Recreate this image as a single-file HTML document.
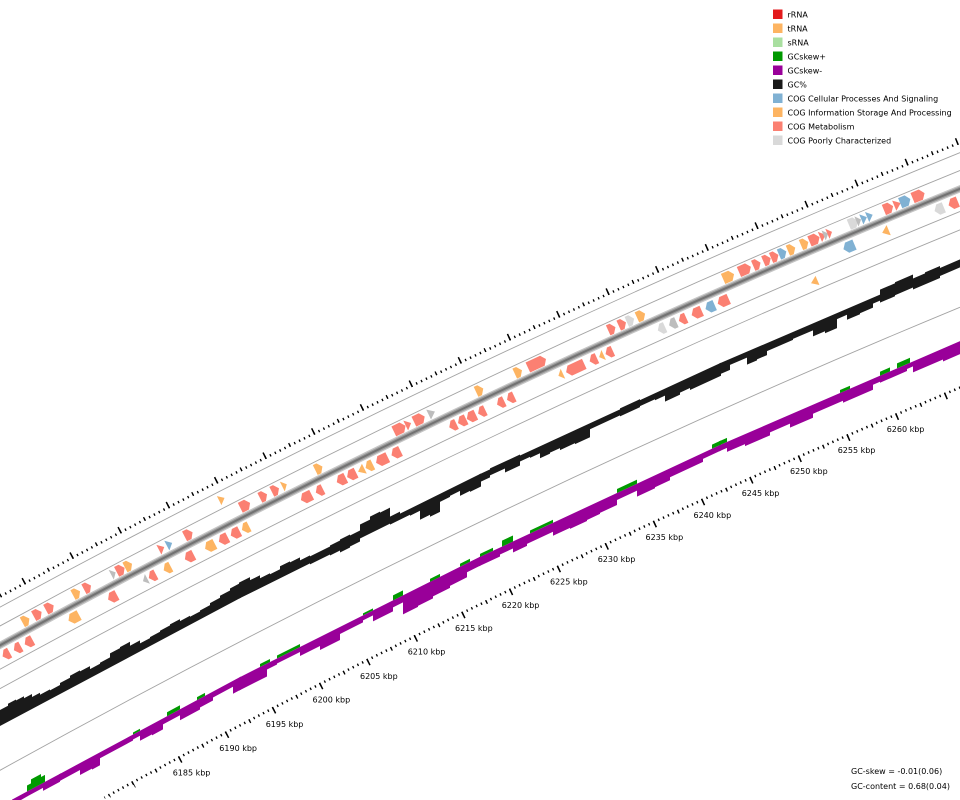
<!DOCTYPE html>
<html>
<head>
<meta charset="utf-8">
<style>
html,body{margin:0;padding:0;background:#fff;overflow:hidden;width:960px;height:800px;}
#wrap{position:relative;width:960px;height:800px;overflow:hidden;}
svg{display:block;}
.s{fill:#fb8072}.o{fill:#fdb462}.b{fill:#80b1d3}.g{fill:#d9d9d9}.m{fill:#bdbdbd}
text{font-family:"DejaVu Sans","Liberation Sans",sans-serif;font-size:8px;fill:#000;}
</style>
</head>
<body>
<div id="wrap">
<svg width="960" height="800" viewBox="0 0 960 800" xmlns="http://www.w3.org/2000/svg">
<defs>
<clipPath id="cv"><rect x="0" y="0" width="960" height="800"/></clipPath>
<polygon id="F5" points="-5.5,-2.5 5.5,-2.5 0,2.5"/>
<polygon id="F6" points="-5.5,-3 5.5,-3 0,3"/>
<polygon id="F7" points="-5.5,-3.5 5.5,-3.5 0,3.5"/>
<polygon id="F8" points="-5.5,-4 5.5,-4 5.5,0 0,4 -5.5,0"/>
<polygon id="F9" points="-5.5,-4.5 5.5,-4.5 5.5,0.5 0,4.5 -5.5,0.5"/>
<polygon id="F10" points="-5.5,-5 5.5,-5 5.5,1 0,5 -5.5,1"/>
<polygon id="F11" points="-5.5,-5.5 5.5,-5.5 5.5,1.5 0,5.5 -5.5,1.5"/>
<polygon id="F12" points="-5.5,-6 5.5,-6 5.5,2 0,6 -5.5,2"/>
<polygon id="F13" points="-5.5,-6.5 5.5,-6.5 5.5,2.5 0,6.5 -5.5,2.5"/>
<polygon id="F20" points="-5.5,-10 5.5,-10 5.5,6 0,10 -5.5,6"/>
<polygon id="R5" points="-5.5,2.5 5.5,2.5 0,-2.5"/>
<polygon id="R7" points="-5.5,3.5 5.5,3.5 0,-3.5"/>
<polygon id="R8" points="-5.5,4 5.5,4 5.5,0 0,-4 -5.5,0"/>
<polygon id="R9" points="-5.5,4.5 5.5,4.5 5.5,-0.5 0,-4.5 -5.5,-0.5"/>
<polygon id="R10" points="-5.5,5 5.5,5 5.5,-1 0,-5 -5.5,-1"/>
<polygon id="R11" points="-5.5,5.5 5.5,5.5 5.5,-1.5 0,-5.5 -5.5,-1.5"/>
<polygon id="R12" points="-5.5,6 5.5,6 5.5,-2 0,-6 -5.5,-2"/>
<polygon id="R13" points="-5.5,6.5 5.5,6.5 5.5,-2.5 0,-6.5 -5.5,-2.5"/>
<polygon id="R20" points="-5.5,10 5.5,10 5.5,-6 0,-10 -5.5,-6"/>
</defs>
<rect width="960" height="800" fill="#fff"/>

<g clip-path="url(#cv)">
  <!-- rings (screen coordinates) -->
  <g fill="none" stroke="#a3a3a3" stroke-width="0.9">
    <path d="M-88.043,655.658 A9491,9491 0 0 1 971.932,147.803"/>
    <path d="M-80.006,670.068 A9474.5,9474.5 0 0 1 978.126,163.096"/>
    <path d="M-61.497,703.255 A9436.5,9436.5 0 0 1 992.392,198.317"/>
    <path d="M-53.216,718.102 A9419.5,9419.5 0 0 1 998.774,214.073"/>
    <path d="M-18.388,780.547 A9348,9348 0 0 1 1025.616,280.344"/>
  </g>
  <path d="M-71.726,684.915 A9457.5,9457.5 0 0 1 984.508,178.853" fill="none" stroke="#c6c6c6" stroke-width="7"/>
  <path d="M-71.726,684.915 A9457.5,9457.5 0 0 1 984.508,178.853" fill="none" stroke="#9c9c9c" stroke-width="4.5"/>
  <path d="M-71.726,684.915 A9457.5,9457.5 0 0 1 984.508,178.853" fill="none" stroke="#727272" stroke-width="2"/>

  <!-- rulers -->
  <g fill="none" stroke="#000">
    <path d="M-117.869,661.754 A9500.25,9500.25 0 0 1 968.459,139.230" stroke-width="2.5" stroke-dasharray="1.3 4.130296" stroke-dashoffset="0.65"/>
    <path d="M-118.236,661.100 A9501,9501 0 0 1 968.177,138.534" stroke-width="4" stroke-dasharray="1.3 25.85363" stroke-dashoffset="0.65"/>
    <path d="M-118.971,659.792 A9502.5,9502.5 0 0 1 967.614,137.144" stroke-width="7" stroke-dasharray="1.5 52.81584" stroke-dashoffset="0.75"/>
    <path d="M104.403,797.684 A9273.75,9273.75 0 0 1 1053.490,349.163" stroke-width="2.5" stroke-dasharray="1.3 4.000829" stroke-dashoffset="0.65"/>
    <path d="M109.419,795.812 A9273,9273 0 0 1 1053.772,349.858" stroke-width="4" stroke-dasharray="1.3 25.202011" stroke-dashoffset="0.65"/>
    <path d="M133.439,784.516 A9271.5,9271.5 0 0 1 1054.335,351.253" stroke-width="7" stroke-dasharray="1.5 51.495458" stroke-dashoffset="0.75"/>
  </g>

<g transform="translate(4535 8944.6) rotate(243.95)">
  <!-- forward lane -->
  <use href="#F8" class="o" transform="rotate(-2.394) translate(9467)"/>
  <use href="#F9" class="s" transform="rotate(-2.313) translate(9467)"/>
  <use href="#F9" class="s" transform="rotate(-2.230) translate(9467)"/>
  <use href="#F8" class="o" transform="rotate(-2.046) translate(9467)"/>
  <use href="#F8" class="s" transform="rotate(-1.971) translate(9467)"/>
  <use href="#F5" class="m" transform="rotate(-1.793) translate(9467)"/>
  <use href="#F9" class="s" transform="rotate(-1.744) translate(9467)"/>
  <use href="#F8" class="o" transform="rotate(-1.690) translate(9467)"/>
  <use href="#F6" class="s" transform="rotate(-1.464) translate(9467)"/>
  <use href="#F6" class="b" transform="rotate(-1.410) translate(9467)"/>
  <use href="#F9" class="s" transform="rotate(-1.280) translate(9467)"/>
  <use href="#F11" class="s" transform="rotate(-0.895) translate(9467)"/>
  <use href="#F8" class="s" transform="rotate(-0.771) translate(9467)"/>
  <use href="#F8" class="s" transform="rotate(-0.690) translate(9467)"/>
  <use href="#F5" class="o" transform="rotate(-0.628) translate(9467)"/>
  <use href="#F8" class="o" transform="rotate(-0.396) translate(9467)"/>
  <use href="#F13" class="s" transform="rotate(0.149) translate(9467)"/>
  <use href="#F6" class="s" transform="rotate(0.208) translate(9467)"/>
  <use href="#F12" class="s" transform="rotate(0.281) translate(9467)"/>
  <use href="#F7" class="m" transform="rotate(0.365) translate(9467)"/>
  <use href="#F8" class="o" transform="rotate(0.686) translate(9467)"/>
  <use href="#F8" class="o" transform="rotate(0.945) translate(9467)"/>
  <use href="#F20" class="s" transform="rotate(1.069) translate(9467)"/>
  <use href="#F8" class="s" transform="rotate(1.568) translate(9467)"/>
  <use href="#F8" class="s" transform="rotate(1.638) translate(9467)"/>
  <use href="#F8" class="g" transform="rotate(1.692) translate(9467)"/>
  <use href="#F9" class="o" transform="rotate(1.762) translate(9467)"/>
  <use href="#F12" class="o" transform="rotate(2.342) translate(9467)"/>
  <use href="#F13" class="s" transform="rotate(2.450) translate(9467)"/>
  <use href="#F8" class="s" transform="rotate(2.529) translate(9467)"/>
  <use href="#F8" class="s" transform="rotate(2.596) translate(9467)"/>
  <use href="#F8" class="s" transform="rotate(2.647) translate(9467)"/>
  <use href="#F8" class="b" transform="rotate(2.699) translate(9467)"/>
  <use href="#F8" class="o" transform="rotate(2.758) translate(9467)"/>
  <use href="#F8" class="o" transform="rotate(2.844) translate(9467)"/>
  <use href="#F11" class="s" transform="rotate(2.909) translate(9467)"/>
  <use href="#F6" class="s" transform="rotate(2.963) translate(9467)"/>
  <use href="#F5" class="m" transform="rotate(2.984) translate(9467)"/>
  <use href="#F5" class="s" transform="rotate(3.009) translate(9467)"/>
  <use href="#F10" class="g" transform="rotate(3.165) translate(9467)"/>
  <use href="#F5" class="m" transform="rotate(3.200) translate(9467)"/>
  <use href="#F6" class="b" transform="rotate(3.235) translate(9467)"/>
  <use href="#F6" class="b" transform="rotate(3.273) translate(9467)"/>
  <use href="#F10" class="s" transform="rotate(3.395) translate(9467)"/>
  <use href="#F7" class="s" transform="rotate(3.454) translate(9467)"/>
  <use href="#F11" class="b" transform="rotate(3.505) translate(9467)"/>
  <use href="#F13" class="s" transform="rotate(3.592) translate(9467)"/>

  <!-- reverse lane -->
  <use href="#R8" class="s" transform="rotate(-2.598) translate(9446.5)"/>
  <use href="#R8" class="s" transform="rotate(-2.520) translate(9446.5)"/>
  <use href="#R9" class="s" transform="rotate(-2.442) translate(9446.5)"/>
  <use href="#R12" class="o" transform="rotate(-2.131) translate(9446.5)"/>
  <use href="#R10" class="s" transform="rotate(-1.865) translate(9446.5)"/>
  <use href="#R5" class="m" transform="rotate(-1.641) translate(9446.5)"/>
  <use href="#R8" class="s" transform="rotate(-1.592) translate(9446.5)"/>
  <use href="#R8" class="o" transform="rotate(-1.490) translate(9446.5)"/>
  <use href="#R10" class="s" transform="rotate(-1.339) translate(9446.5)"/>
  <use href="#R11" class="o" transform="rotate(-1.198) translate(9446.5)"/>
  <use href="#R10" class="s" transform="rotate(-1.107) translate(9446.5)"/>
  <use href="#R10" class="s" transform="rotate(-1.026) translate(9446.5)"/>
  <use href="#R8" class="o" transform="rotate(-0.956) translate(9446.5)"/>
  <use href="#R12" class="s" transform="rotate(-0.543) translate(9446.5)"/>
  <use href="#R8" class="s" transform="rotate(-0.454) translate(9446.5)"/>
  <use href="#R10" class="s" transform="rotate(-0.306) translate(9446.5)"/>
  <use href="#R10" class="s" transform="rotate(-0.236) translate(9446.5)"/>
  <use href="#R7" class="o" transform="rotate(-0.171) translate(9446.5)"/>
  <use href="#R8" class="o" transform="rotate(-0.117) translate(9446.5)"/>
  <use href="#R13" class="s" transform="rotate(-0.031) translate(9446.5)"/>
  <use href="#R10" class="s" transform="rotate(0.064) translate(9446.5)"/>
  <use href="#R8" class="s" transform="rotate(0.447) translate(9446.5)"/>
  <use href="#R9" class="s" transform="rotate(0.509) translate(9446.5)"/>
  <use href="#R10" class="s" transform="rotate(0.571) translate(9446.5)"/>
  <use href="#R8" class="s" transform="rotate(0.641) translate(9446.5)"/>
  <use href="#R8" class="s" transform="rotate(0.768) translate(9446.5)"/>
  <use href="#R8" class="s" transform="rotate(0.835) translate(9446.5)"/>
  <use href="#R5" class="o" transform="rotate(1.170) translate(9446.5)"/>
  <use href="#R20" class="s" transform="rotate(1.267) translate(9446.5)"/>
  <use href="#R8" class="s" transform="rotate(1.388) translate(9446.5)"/>
  <use href="#R5" class="o" transform="rotate(1.442) translate(9446.5)"/>
  <use href="#R8" class="s" transform="rotate(1.494) translate(9446.5)"/>
  <use href="#R8" class="g" transform="rotate(1.842) translate(9446.5)"/>
  <use href="#R8" class="m" transform="rotate(1.917) translate(9446.5)"/>
  <use href="#R8" class="s" transform="rotate(1.982) translate(9446.5)"/>
  <use href="#R11" class="s" transform="rotate(2.076) translate(9446.5)"/>
  <use href="#R10" class="b" transform="rotate(2.165) translate(9446.5)"/>
  <use href="#R12" class="s" transform="rotate(2.252) translate(9446.5)"/>
  <use href="#R12" class="b" transform="rotate(3.083) translate(9446.5)"/>
  <use href="#R7" class="o" transform="rotate(3.323) translate(9446.5)"/>
  <use href="#R10" class="g" transform="rotate(3.676) translate(9446.5)"/>
  <use href="#R10" class="s" transform="rotate(3.768) translate(9446.5)"/>

  <polygon points="-5,-3 5,-3 0,3" class="o" transform="rotate(-1.004) translate(9483)"/>
  <polygon points="-5,3.5 5,3.5 0,-3.5" class="o" transform="rotate(2.806) translate(9428)"/>
</g>

<!-- GC content -->
<g fill="#1a1a1a">
  <polygon transform="matrix(1 -0.53292 0 1 0 724.03)" points="0,-14 8,-14 8,-16 16,-16 16,-15 24,-15 24,-13 32,-13 32,-10 40,-10 40,-8 50,-8 50,-7 60,-7 60,-9 70,-9 70,-11 80,-11 80,-10 90,-10 90,-7 100,-7 100,-8 110,-8 110,-12 120,-12 120,-13 130,-13 130,-9 140,-9 140,-6 150,-6 150,-7 160,-7 160,-8 170,-8 170,-9 180,-9 180,-7 190,-7 190,-6 200,-6 200,-7 210,-7 210,-9 220,-9 220,-11 230,-11 230,-13 241,-13 241,2 0,2"/>
  <polygon transform="matrix(1 -0.49667 0 1 0 715.35)" points="239,-14 250,-14 250,-11 260,-11 260,-8 270,-8 270,-7 280,-7 280,-10 290,-10 290,-9 300,-9 300,-6 310,-6 310,-5 330,-5 330,-6 340,-6 340,-7 350,-7 350,-6 360,-6 360,-12 370,-12 370,-15 380,-15 380,-14 390,-14 390,-5 400,-5 400,-3 481,-3 481,10 470,10 470,9 460,9 460,4 450,4 450,5 440,5 440,15 430,15 430,13 420,13 420,4 410,4 410,3 390,3 390,2 360,2 360,5 350,5 350,6 340,6 340,4 330,4 330,3 310,3 310,2 239,2"/>
  <polygon transform="matrix(1 -0.46167 0 1 0 698.6)" points="479,-3 490,-3 490,-4 520,-4 520,-3 620,-3 620,-4 640,-4 640,-3 721,-3 721,10 690,10 690,8 680,8 680,10 665,10 665,4 655,4 655,3 640,3 640,4 620,4 620,3 590,3 590,11 575,11 575,10 560,10 560,8 550,8 550,9 540,9 540,4 530,4 530,3 520,3 520,7 505,7 505,3 490,3 490,5 479,5"/>
  <polygon transform="matrix(1 -0.42833 0 1 0 674.6)" points="719,-3 880,-3 880,-8 895,-8 895,-9 913,-9 913,-5 925,-5 925,-6 940,-6 940,-4 960,-4 960,4 940,4 940,6 913,6 913,4 895,4 895,5 880,5 880,3 873,3 873,7 860,7 860,8 847,8 847,3 837,3 837,12 825,12 825,10 813,10 813,4 793,4 793,5 767,5 767,9 757,9 757,10 747,10 747,3 730,3 730,8 719,8"/>
</g>

<!-- GC skew negative -->
<g fill="#990099">
  <polygon points="12,799.6 27.5,791.3 27.5,796.3 21,800 12,800"/>
  <polygon transform="matrix(1 -0.53742 0 1 0 806.03)" points="27,0 61,0 61,7 60,7 60,8 43,8 43,5 27,5"/>
  <polygon transform="matrix(1 -0.53742 0 1 0 806.03)" points="59,0 241,0 241,13 233,13 233,6 213,6 213,9 200,9 200,11 180,11 180,6 163,6 163,11 152,11 152,10 140,10 140,5 133,5 133,6 100,6 100,13 92,13 92,12 80,12 80,7 59,7"/>
  <polygon transform="matrix(1 -0.50117 0 1 0 797.35)" points="239,0 481,0 481,9 467,9 467,14 450,14 450,16 433,16 433,18 418,18 418,19 403,19 403,7 393,7 393,11 373,11 373,5 363,5 363,7 340,7 340,13 320,13 320,9 300,9 300,5 277,5 277,6 267,6 267,13 239,13"/>
  <polygon transform="matrix(1 -0.46617 0 1 0 780.6)" points="479,0 721,0 721,6 703,6 703,9 670,9 670,12 655,12 655,13 637,13 637,7 617,7 617,12 600,12 600,13 587,13 587,14 570,14 570,13 553,13 553,9 527,9 527,11 513,11 513,7 500,7 500,9 479,9"/>
  <polygon transform="matrix(1 -0.43283 0 1 0 756.6)" points="719,0 960,0 960,13 943,13 943,11 913,11 913,5 907,5 907,7 880,7 880,6 873,6 873,11 843,11 843,9 813,9 813,13 790,13 790,9 770,9 770,12 745,12 745,10 727,10 727,6 719,6"/>
</g>

<!-- GC skew positive -->
<g fill="#009900">
  <g transform="matrix(1 -0.53742 0 1 0 806.03)">
    <polygon points="27,0 27,-6 31,-6 31,-10 41,-10 41,-7 45,-7 45,0"/>
    <rect x="133" y="-2" width="7" height="2"/>
    <rect x="167" y="-4" width="13" height="4"/>
    <rect x="197" y="-3" width="8" height="3"/>
  </g>
  <g transform="matrix(1 -0.50117 0 1 0 797.35)">
    <rect x="260" y="-3" width="10" height="3"/>
    <rect x="277" y="-3" width="23" height="3"/>
    <rect x="363" y="-2" width="10" height="2"/>
    <rect x="393" y="-5" width="10" height="5"/>
    <rect x="430" y="-3" width="10" height="3"/>
    <rect x="460" y="-3" width="10" height="3"/>
  </g>
  <g transform="matrix(1 -0.46617 0 1 0 780.6)">
    <rect x="480" y="-3" width="13" height="3"/>
    <rect x="502" y="-6" width="11" height="6"/>
    <rect x="530" y="-3" width="23" height="3"/>
    <rect x="617" y="-4" width="20" height="4"/>
    <rect x="712" y="-4" width="9" height="4"/>
  </g>
  <g transform="matrix(1 -0.43283 0 1 0 756.6)">
    <rect x="719" y="-4" width="8" height="4"/>
    <rect x="840" y="-3" width="10" height="3"/>
    <rect x="880" y="-4" width="10" height="4"/>
    <rect x="897" y="-5" width="13" height="5"/>
  </g>
</g>
</g>

<!-- ruler labels -->
<text x="172.7" y="775.6">6185 kbp</text>
<text x="219.3" y="751">6190 kbp</text>
<text x="265.7" y="727">6195 kbp</text>
<text x="312.5" y="702.5">6200 kbp</text>
<text x="360" y="679">6205 kbp</text>
<text x="407.7" y="654.6">6210 kbp</text>
<text x="455" y="631.2">6215 kbp</text>
<text x="501.7" y="608">6220 kbp</text>
<text x="550" y="584.6">6225 kbp</text>
<text x="597.7" y="562">6230 kbp</text>
<text x="645.5" y="540">6235 kbp</text>
<text x="693.5" y="518">6240 kbp</text>
<text x="741.7" y="496.2">6245 kbp</text>
<text x="790" y="474">6250 kbp</text>
<text x="837.7" y="453">6255 kbp</text>
<text x="886.7" y="432">6260 kbp</text>

<!-- legend -->
<rect x="773" y="9.5" width="9.5" height="9.5" fill="#e31a1c"/>
<rect x="773" y="23.5" width="9.5" height="9.5" fill="#fdb462"/>
<rect x="773" y="37.5" width="9.5" height="9.5" fill="#a9dfa0"/>
<rect x="773" y="51.5" width="9.5" height="9.5" fill="#009900"/>
<rect x="773" y="65.5" width="9.5" height="9.5" fill="#990099"/>
<rect x="773" y="79.5" width="9.5" height="9.5" fill="#1a1a1a"/>
<rect x="773" y="93.5" width="9.5" height="9.5" fill="#80b1d3"/>
<rect x="773" y="107.5" width="9.5" height="9.5" fill="#fdb462"/>
<rect x="773" y="121.5" width="9.5" height="9.5" fill="#fb8072"/>
<rect x="773" y="135.5" width="9.5" height="9.5" fill="#d9d9d9"/>
<text x="787.5" y="17.5">rRNA</text>
<text x="787.5" y="31.5">tRNA</text>
<text x="787.5" y="45.5">sRNA</text>
<text x="787.5" y="59.5">GCskew+</text>
<text x="787.5" y="73.5">GCskew-</text>
<text x="787.5" y="87.5">GC%</text>
<text x="787.5" y="101.5">COG Cellular Processes And Signaling</text>
<text x="787.5" y="115.5">COG Information Storage And Processing</text>
<text x="787.5" y="129.5">COG Metabolism</text>
<text x="787.5" y="143.5">COG Poorly Characterized</text>

<text x="851" y="774">GC-skew = -0.01(0.06)</text>
<text x="851" y="789">GC-content = 0.68(0.04)</text>
</svg>
</div>
</body>
</html>
